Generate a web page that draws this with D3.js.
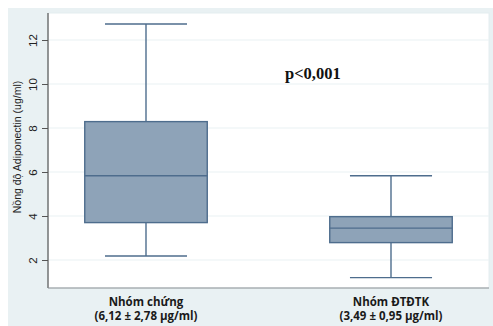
<!DOCTYPE html>
<html>
<head>
<meta charset="utf-8">
<script src="https://cdn.jsdelivr.net/npm/d3@7"></script>
<style>
  html, body { margin: 0; padding: 0; background: #ffffff; }
  svg { display: block; }
</style>
</head>
<body>
<svg id="chart" width="493" height="326"></svg>
<script>
// Group names and their summary lines under the axis
const categories = ["Nhóm chứng", "Nhóm ĐTĐTK"];
const subLabels = ["(6,12 ± 2,78 μg/ml)", "(3,49 ± 0,95 μg/ml)"];

// Box-plot statistics per group: whisker low, Q1, median, Q3, whisker high
const whiskerLow  = [2.18, 1.20];
const q1          = [3.70, 2.79];
const median      = [5.83, 3.45];
const q3          = [8.29, 3.97];
const whiskerHigh = [12.73, 5.83];

const yTicks = [2, 4, 6, 8, 10, 12];
const yLabel = "Nồng độ Adiponectin (ug/ml)";
const pText = "p<0,001";

const svg = d3.select("#chart");
const W = 493, H = 326;
const plot = { left: 48, right: 489, top: 13, bottom: 288 };

// outer panel background
svg.append("rect").attr("x", 8).attr("y", 8).attr("width", W - 8).attr("height", H - 8)
  .attr("fill", "#e9f1f3");

// plot region
svg.append("rect")
  .attr("x", plot.left).attr("y", plot.top)
  .attr("width", plot.right - plot.left).attr("height", plot.bottom - plot.top)
  .attr("fill", "#ffffff").attr("stroke", "#e4edf0").attr("stroke-width", 1);

const y = d3.scaleLinear().domain([2, 12]).range([260, 40]);
const x = d3.scalePoint().domain(categories).range([plot.left, plot.right]).padding(0.4);
const step = x.step();
const boxW = step * 0.5;
const capW = step * 0.335;

// gridlines
svg.append("g").selectAll("line").data(yTicks).join("line")
  .attr("x1", plot.left).attr("x2", plot.right)
  .attr("y1", d => y(d)).attr("y2", d => y(d))
  .attr("stroke", "#eaf1f4").attr("stroke-width", 1.2);

// y axis
const yAxis = svg.append("g").attr("transform", `translate(${plot.left},0)`)
  .call(d3.axisLeft(y).tickValues(yTicks).tickSize(6).tickPadding(4));
yAxis.select(".domain").remove();
yAxis.selectAll(".tick line").attr("stroke", "#555");
yAxis.selectAll(".tick text")
  .attr("font-family", "Liberation Sans, Arial, sans-serif").attr("font-size", 11.5).attr("fill", "#222")
  .attr("transform", "rotate(-90)")
  .attr("x", 0).attr("y", -11).attr("dy", "0")
  .attr("text-anchor", "middle");
svg.append("line")
  .attr("x1", plot.left).attr("x2", plot.left).attr("y1", plot.top).attr("y2", plot.bottom)
  .attr("stroke", "#555").attr("stroke-width", 1.2);

// x axis baseline
svg.append("line")
  .attr("x1", plot.left).attr("x2", plot.right).attr("y1", plot.bottom).attr("y2", plot.bottom)
  .attr("stroke", "#8a8f94").attr("stroke-width", 1.2);

// y axis title
svg.append("text")
  .attr("transform", `translate(21,147) rotate(-90)`)
  .attr("text-anchor", "middle")
  .attr("font-family", "Liberation Sans, Arial, sans-serif").attr("font-size", 10.5).attr("fill", "#222")
  .text(yLabel);

// boxes
const stroke = "#4e6d8d";
const fill = "#8ea3b8";
const groups = svg.append("g").selectAll("g").data(categories).join("g");

groups.append("line")
  .attr("x1", d => x(d)).attr("x2", d => x(d))
  .attr("y1", (d, i) => y(whiskerHigh[i])).attr("y2", (d, i) => y(q3[i]))
  .attr("stroke", stroke).attr("stroke-width", 1.4);
groups.append("line")
  .attr("x1", d => x(d)).attr("x2", d => x(d))
  .attr("y1", (d, i) => y(q1[i])).attr("y2", (d, i) => y(whiskerLow[i]))
  .attr("stroke", stroke).attr("stroke-width", 1.4);
groups.append("line")
  .attr("x1", d => x(d) - capW / 2).attr("x2", d => x(d) + capW / 2)
  .attr("y1", (d, i) => y(whiskerHigh[i])).attr("y2", (d, i) => y(whiskerHigh[i]))
  .attr("stroke", stroke).attr("stroke-width", 1.4);
groups.append("line")
  .attr("x1", d => x(d) - capW / 2).attr("x2", d => x(d) + capW / 2)
  .attr("y1", (d, i) => y(whiskerLow[i])).attr("y2", (d, i) => y(whiskerLow[i]))
  .attr("stroke", stroke).attr("stroke-width", 1.4);
groups.append("rect")
  .attr("x", d => x(d) - boxW / 2).attr("width", boxW)
  .attr("y", (d, i) => y(q3[i])).attr("height", (d, i) => y(q1[i]) - y(q3[i]))
  .attr("fill", fill).attr("stroke", stroke).attr("stroke-width", 1.4);
groups.append("line")
  .attr("x1", d => x(d) - boxW / 2).attr("x2", d => x(d) + boxW / 2)
  .attr("y1", (d, i) => y(median[i])).attr("y2", (d, i) => y(median[i]))
  .attr("stroke", stroke).attr("stroke-width", 1.4);

// category labels
groups.append("text")
  .attr("x", d => x(d)).attr("y", 306)
  .attr("text-anchor", "middle")
  .attr("font-family", "Open Sans, Lato, sans-serif").attr("font-weight", "bold")
  .attr("font-size", 11.5).attr("fill", "#1a1a1a")
  .text(d => d);
groups.append("text")
  .attr("x", d => x(d)).attr("y", 320)
  .attr("text-anchor", "middle")
  .attr("font-family", "Open Sans, Lato, sans-serif").attr("font-weight", "bold")
  .attr("font-size", 11.5).attr("fill", "#1a1a1a")
  .text((d, i) => subLabels[i]);

// significance annotation
svg.append("text")
  .attr("x", 285).attr("y", 79)
  .attr("font-family", "Liberation Serif, Times New Roman, serif").attr("font-weight", "bold")
  .attr("font-size", 16.5).attr("fill", "#111")
  .text(pText);
</script>
</body>
</html>
